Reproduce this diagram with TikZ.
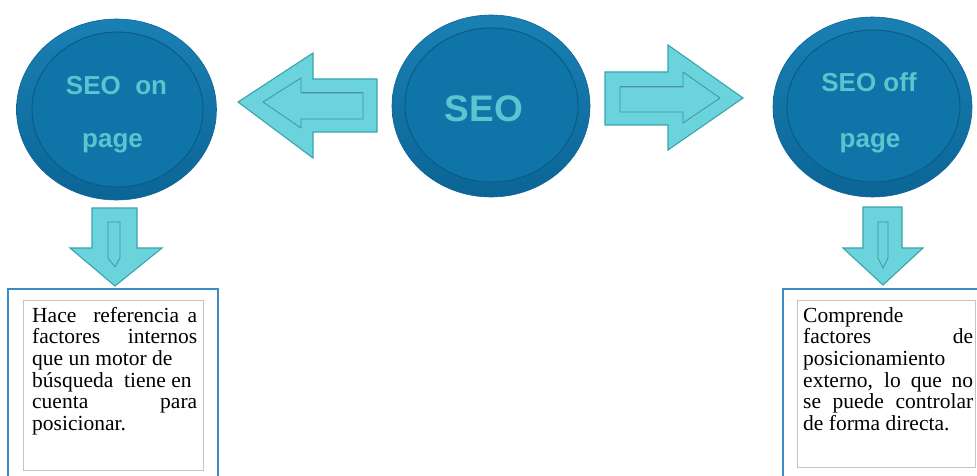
\documentclass[tikz,border=0pt]{standalone}
\usepackage{fontspec}
\setmainfont{Liberation Serif}
\setsansfont{Liberation Sans}
\usetikzlibrary{shapes.geometric}
\definecolor{seoblue}{HTML}{0F74A7}
\definecolor{seorimtop}{HTML}{1A80B4}
\definecolor{seorimbot}{HTML}{0B6596}
\definecolor{seodark}{HTML}{0A5A83}
\definecolor{seotext}{HTML}{5CC4CE}
\definecolor{arrowfill}{HTML}{6AD3DC}
\definecolor{arrowedge}{HTML}{3AA4AE}
\definecolor{arrowbevel}{HTML}{3C97A1}
\definecolor{boxblue}{HTML}{3A8CC6}
\definecolor{boxgray}{HTML}{C4C4C4}
\tikzset{
  disc/.style={ellipse, inner sep=0pt, outer sep=0pt, top color=seorimtop, bottom color=seorimbot, draw=seorimbot, line width=0.6pt},
  discinner/.style={fill=seoblue, draw=seodark, line width=0.9pt},
  disclabel/.style={font=\sffamily\bfseries\fontsize{26pt}{26pt}\selectfont, text=seotext, anchor=base, inner sep=0pt},
  blockarrow/.style={fill=arrowfill, draw=arrowedge, line width=1.1pt, line join=miter},
  bevel/.style={fill=arrowfill, draw=arrowbevel, line width=0.8pt, line join=miter},
  outerbox/.style={draw=boxblue, line width=2.2pt},
  innerbox/.style={draw=boxgray, line width=1.2pt, fill=white, inner sep=0pt, anchor=north west},
  bodytext/.style={anchor=base west, inner sep=0pt, font=\fontsize{21.5pt}{21.7pt}\selectfont}
}
\begin{document}
\begin{tikzpicture}[x=1pt,y=-1pt]
\useasboundingbox[fill=white] (0,0) rectangle (977,476);

% circles
\node[disc, minimum width=200pt, minimum height=181pt] (on) at (116.5,109.5) {};
\draw[discinner] (117.5,109.5) ellipse [x radius=85.5pt, y radius=77.5pt];
\node[disc, minimum width=198pt, minimum height=182pt] (seo) at (491,106) {};
\draw[discinner] (491.5,105) ellipse [x radius=86.5pt, y radius=77pt];
\node[disc, minimum width=199pt, minimum height=180pt] (off) at (872.5,107) {};
\draw[discinner] (873.5,106) ellipse [x radius=86.5pt, y radius=76pt];

\node[disclabel] (onA) at (116.5,95) {SEO\ \ on};
\node[disclabel] (onB) at (112.5,148) {page};
\node[disclabel, font=\sffamily\bfseries\fontsize{37pt}{37pt}\selectfont] (seoA) at (484,122) {SEO};
\node[disclabel] (offA) at (869,92) {SEO off};
\node[disclabel] (offB) at (870,147) {page};

% left block arrow
\draw[blockarrow] (238,102) -- (313,53) -- (313,79) -- (377,79) -- (377,132) -- (313,132) -- (313,158) -- cycle;
\draw[bevel] (263,102) -- (301,78) -- (301,93) -- (363,93) -- (363,119) -- (301,119) -- (301,128) -- cycle;
\draw[seodark!70, line width=1pt] (301,93) -- (363,93);
% right block arrow
\draw[blockarrow] (605,72) -- (668,72) -- (668,45) -- (743,98) -- (668,150) -- (668,125) -- (605,125) -- cycle;
\draw[bevel] (620,87) -- (683,87) -- (683,72) -- (720,98) -- (683,123) -- (683,112) -- (620,112) -- cycle;
\draw[seodark!70, line width=1pt] (620,87) -- (683,87);
% down arrows
\draw[blockarrow] (92,208) -- (137,208) -- (137,248) -- (162,248) -- (115,286) -- (70,248) -- (92,248) -- cycle;
\draw[bevel] (108,222) -- (120,222) -- (120,258) -- (115,267) -- (108,258) -- cycle;
\draw[blockarrow] (863,207) -- (902,207) -- (902,248) -- (923,248) -- (883,285) -- (843,248) -- (863,248) -- cycle;
\draw[bevel] (878,222) -- (888,222) -- (888,258) -- (883,268) -- (878,258) -- cycle;

% text boxes
\draw[outerbox] (8,289) rectangle (218,482);
\node[innerbox, minimum width=180pt, minimum height=170pt] (lbox) at (23,300) {};
\node[bodytext] (ltext) at (32,322) {\parbox[t]{165pt}{\setlength{\parindent}{0pt}%
\makebox[165pt][s]{Hace\ \ referencia a}\\
\makebox[165pt][s]{factores internos}\\
que un motor de\\
búsqueda\ \ tiene en\\
\makebox[165pt][s]{cuenta para}\\
posicionar.}};

\draw[outerbox] (783,289) rectangle (982,482);
\node[innerbox, minimum width=178pt, minimum height=167pt] (rbox) at (797,300) {};
\node[bodytext] (rtext) at (803,322) {\parbox[t]{170pt}{\setlength{\parindent}{0pt}%
Comprende\\
\makebox[170pt][s]{factores de}\\
posicionamiento\\
\makebox[170pt][s]{externo, lo que no}\\
\makebox[170pt][s]{se puede controlar}\\
de forma directa.}};
\end{tikzpicture}
\end{document}
